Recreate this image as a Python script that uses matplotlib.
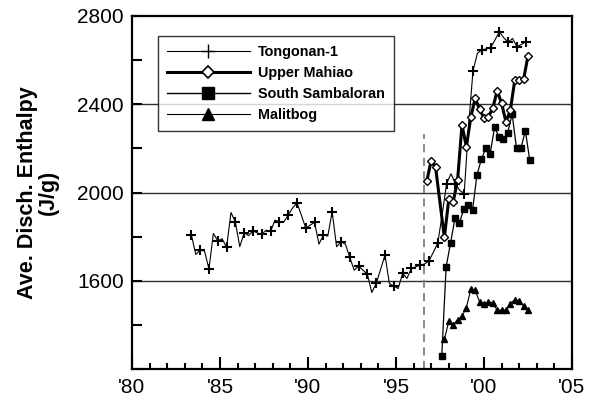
import matplotlib
matplotlib.use("Agg")
import matplotlib.pyplot as plt
from matplotlib.lines import Line2D
from matplotlib.ticker import MultipleLocator, FuncFormatter

plt.rcParams['font.family'] = ['Liberation Sans', 'DejaVu Sans']

# average discharge enthalpy (J/g), quarterly
tongonan_yr = [
    1983.375, 1983.625, 1983.875,
    1984.125, 1984.375, 1984.625, 1984.875,
    1985.125, 1985.375, 1985.625, 1985.875,
    1986.125, 1986.375, 1986.625, 1986.875,
    1987.125, 1987.375, 1987.625, 1987.875,
    1988.125, 1988.375, 1988.625, 1988.875,
    1989.125, 1989.375, 1989.625, 1989.875,
    1990.125, 1990.375, 1990.625, 1990.875,
    1991.125, 1991.375, 1991.625, 1991.875,
    1992.125, 1992.375, 1992.625, 1992.875,
    1993.125, 1993.375, 1993.625, 1993.875,
    1994.125, 1994.375, 1994.625, 1994.875,
    1995.125, 1995.375, 1995.625, 1995.875,
    1996.125, 1996.375, 1996.625, 1996.875,
    1997.125, 1997.375, 1997.625, 1997.875,
    1998.125, 1998.375, 1998.625, 1998.875,
    1999.125, 1999.375, 1999.625, 1999.875,
    2000.125, 2000.375, 2000.625, 2000.875,
    2001.125, 2001.375, 2001.625, 2001.875,
    2002.125, 2002.375,
]
tongonan_h = [
    1809, 1720, 1740, 1735, 1654, 1815, 1782, 1791, 1752, 1910,
    1867, 1755, 1818, 1805, 1827, 1817, 1812, 1830, 1824, 1875,
    1868, 1867, 1898, 1930, 1953, 1898, 1838, 1853, 1865, 1767,
    1808, 1803, 1913, 1755, 1777, 1767, 1707, 1649, 1667, 1649,
    1631, 1548, 1589, 1652, 1717, 1589, 1577, 1566, 1634, 1612,
    1657, 1664, 1672, 1677, 1691, 1730, 1772, 1900, 2040, 2085,
    2040, 2010, 1995, 2300, 2550, 2630, 2645, 2650, 2655, 2690,
    2728, 2700, 2680, 2697, 2660, 2670, 2682,
]

mahiao_yr = [
    1996.75, 1997.0, 1997.25, 1997.75, 1998.0, 1998.25, 1998.5, 1998.75,
    1999.0, 1999.25, 1999.5, 1999.75, 2000.0, 2000.25, 2000.5, 2000.75,
    2001.0, 2001.25, 2001.5, 2001.75, 2002.0, 2002.25, 2002.5,
]
mahiao_h = [
    2052, 2144, 2114, 1797, 1969, 1958, 2056, 2305, 2207, 2340,
    2426, 2378, 2336, 2343, 2381, 2461, 2404, 2320, 2373, 2509,
    2509, 2512, 2618,
]

sambaloran_yr = [
    1997.6, 1997.85, 1998.1, 1998.35, 1998.6, 1998.85, 1999.1, 1999.35,
    1999.6, 1999.85, 2000.1, 2000.35, 2000.6, 2000.85, 2001.1, 2001.35,
    2001.6, 2001.85, 2002.1, 2002.35, 2002.6,
]
sambaloran_h = [
    1260, 1663, 1772, 1883, 1862, 1924, 1943, 1921, 2079, 2150,
    2200, 2174, 2295, 2253, 2241, 2271, 2355, 2200, 2200, 2280,
    2147,
]

malitbog_yr = [
    1997.75, 1998.0, 1998.25, 1998.5, 1998.75, 1999.0, 1999.25, 1999.5,
    1999.75, 2000.0, 2000.25, 2000.5, 2000.75, 2001.0, 2001.25, 2001.5,
    2001.75, 2002.0, 2002.25, 2002.5,
]
malitbog_h = [
    1336, 1417, 1402, 1425, 1440, 1480, 1562, 1558, 1506, 1495,
    1506, 1501, 1468, 1468, 1468, 1498, 1516, 1510, 1486, 1471,
]

# start of the mahiao/sambaloran production
marker_year = 1996.57
marker_top = 2265

fig = plt.figure(figsize=(5.95, 4.04), dpi=100)
ax = fig.add_axes([0.2218, 0.0856, 0.7395, 0.8755])

ax.axhline(1600, color='#303030', lw=1, zorder=1)
ax.axhline(2000, color='#303030', lw=1, zorder=1)
ax.axhline(2400, color='#303030', lw=1, zorder=1)

ax.plot([marker_year, marker_year], [1200, marker_top], color='#808080',
        lw=1.3, ls=(0, (4.5, 3)), zorder=2)

ax.plot(tongonan_yr, tongonan_h, color='black', lw=0.8, marker='+',
        ms=6.5, mew=1.5, markevery=2, zorder=3)
ax.plot(sambaloran_yr, sambaloran_h, color='black', lw=0.9, marker='s',
        ms=3.8, zorder=4)
ax.plot(malitbog_yr, malitbog_h, color='black', lw=0.8, marker='^',
        ms=4.8, zorder=4)
ax.plot(mahiao_yr, mahiao_h, color='black', lw=2.2, marker='D',
        ms=4.2, mfc='white', mec='black', mew=1.0, zorder=5)

ax.set_xlim(1980, 2005)
ax.set_ylim(1200, 2800)
ax.xaxis.set_major_locator(MultipleLocator(5))
ax.xaxis.set_minor_locator(MultipleLocator(1))
ax.yaxis.set_major_locator(MultipleLocator(400))
ax.yaxis.set_minor_locator(MultipleLocator(200))
ax.xaxis.set_major_formatter(FuncFormatter(lambda v, p: "'%02d" % (int(round(v)) % 100)))
ax.yaxis.set_major_formatter(FuncFormatter(lambda v, p: '' if v < 1400 else '%d' % v))

ax.tick_params(axis='x', which='major', direction='in', length=9, width=1.5,
               labelsize=15, pad=6)
ax.tick_params(axis='x', which='minor', direction='in', length=4.5, width=1.5)
ax.tick_params(axis='y', which='both', direction='in', length=7, width=1.5,
               labelsize=15, pad=6)
for s in ax.spines.values():
    s.set_linewidth(1.6)

ax.set_ylabel('Ave. Disch. Enthalpy\n(J/g)', fontsize=15.5, fontweight='bold',
              linespacing=1.0, labelpad=13)

handles = [
    Line2D([], [], color='black', lw=0.8, marker='+', ms=10, mew=1.0),
    Line2D([], [], color='black', lw=2.2, marker='D', ms=6, mfc='white', mew=1.2),
    Line2D([], [], color='black', lw=1.0, marker='s', ms=9),
    Line2D([], [], color='black', lw=0.8, marker='^', ms=8.5),
]
names = ['Tongonan-1', 'Upper Mahiao', 'South Sambaloran', 'Malitbog']
leg = ax.legend(handles, names, loc='upper left', bbox_to_anchor=(0.059, 0.943),
                borderaxespad=0, fancybox=False, frameon=True, edgecolor='black',
                prop={'weight': 'bold', 'size': 10.4}, handlelength=5.7,
                handletextpad=0.55, borderpad=0.65, labelspacing=0.47)
leg.get_frame().set_linewidth(1.0)

fig.savefig('out.png', dpi=100)
